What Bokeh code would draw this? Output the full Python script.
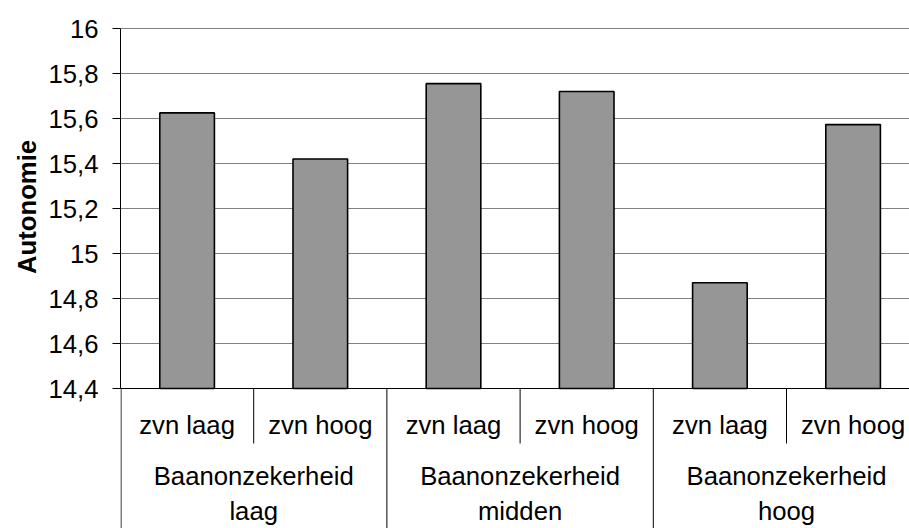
from bokeh.plotting import figure
from bokeh.models import Range1d, CustomJSTickFormatter, FixedTicker, Title
from bokeh.core.properties import value
from bokeh.embed import file_html
from bokeh.resources import INLINE

# ---- data ----
subcategories = ["zvn laag", "zvn hoog", "zvn laag", "zvn hoog", "zvn laag", "zvn hoog"]
groups = ["Baanonzekerheid\nlaag", "Baanonzekerheid\nmidden", "Baanonzekerheid\nhoog"]
autonomie = [15.625, 15.42, 15.755, 15.72, 14.87, 15.573]
y_ticks = [14.4, 14.6, 14.8, 15.0, 15.2, 15.4, 15.6, 15.8, 16.0]
y_axis_label = "Autonomie"

# ---- layout ----
W, H = 909, 528
LEFT = 120
TOP = 28                # pixel row of the top tick
AXIS_Y = 388            # pixel row of the category axis
CAT_PX = 133.2          # pixel width of one sub-category
FONT = "Liberation Sans"
FS = "25.7px"
TITLE_LEN = 131         # rendered length of the rotated y title, px

y_lo, y_hi = y_ticks[0], y_ticks[-1]
px_per_y = (AXIS_Y - TOP) / (y_hi - y_lo)
y_start = y_lo - (H - AXIS_Y) / px_per_y
y_end = y_hi + 1 / px_per_y
x_end = (W - LEFT) / CAT_PX
n = len(subcategories)
gsize = n // len(groups)

def ypx(dpx):
    return y_lo - dpx / px_per_y

p = figure(width=W, height=H, output_backend="svg", toolbar_location=None,
           x_range=Range1d(0, x_end), y_range=Range1d(y_start, y_end),
           x_axis_location=None,
           min_border_left=LEFT, min_border_right=0,
           min_border_top=TOP - 1, min_border_bottom=0)
p.outline_line_color = None
p.background_fill_color = "white"
p.border_fill_color = "white"

ticker = FixedTicker(ticks=y_ticks, minor_ticks=[])
ax = p.yaxis[0]
ax.ticker = ticker
ax.bounds = (y_lo, y_hi)
ax.formatter = CustomJSTickFormatter(
    code="return tick.toFixed(1).replace('.0','').replace('.',',');")
ax.major_tick_out = 8
ax.major_tick_in = 0
ax.minor_tick_out = 0
ax.minor_tick_in = 0
ax.axis_line_color = "black"
ax.major_tick_line_color = "black"
ax.major_label_standoff = 14
ax.major_label_text_font = FONT
ax.major_label_text_font_size = FS
ax.major_label_text_color = "black"

# y-axis title, anchored so that it is centred on the value axis
axis_mid = (TOP + AXIS_Y) / 2
p.add_layout(Title(text=y_axis_label, align="left",
                   offset=H - (axis_mid + TITLE_LEN / 2),
                   text_font=FONT, text_font_size=FS, text_font_style="bold",
                   text_color="black", standoff=10), "left")

p.xgrid.visible = False
p.ygrid.ticker = ticker
p.ygrid.grid_line_color = "#808080"
p.ygrid.grid_line_width = 1

xs = [i + 0.5 for i in range(n)]
p.vbar(x=xs, top=autonomie, bottom=y_lo, width=0.41,
       fill_color="#969696", line_color="black", line_width=1.6)

# category axis baseline
p.segment(x0=[0], x1=[x_end], y0=[y_lo], y1=[y_lo], line_color="black", line_width=1)

# separators between sub-categories inside a group
sub_sep = [g * gsize + k for g in range(len(groups)) for k in range(1, gsize)]
p.segment(x0=sub_sep, x1=sub_sep, y0=[y_lo] * len(sub_sep), y1=[ypx(55)] * len(sub_sep),
          line_color="black", line_width=1)

# separators between groups
half = 0.5 / CAT_PX
grp_sep = [g * gsize + (half if g == 0 else 0) for g in range(len(groups))]
p.segment(x0=grp_sep, x1=grp_sep, y0=[y_lo] * len(grp_sep), y1=[y_start] * len(grp_sep),
          line_color="black", line_width=1)

# sub-category labels
p.text(x=xs, y=[ypx(36)] * n, text=subcategories,
       text_font=value(FONT), text_font_size=FS, text_color="black",
       text_align="center", text_baseline="alphabetic")

# group labels (two lines)
gx = [g * gsize + gsize / 2 for g in range(len(groups))]
line1 = [g.split("\n")[0] for g in groups]
line2 = [g.split("\n")[1] for g in groups]
p.text(x=gx, y=[ypx(87)] * len(gx), text=line1,
       text_font=value(FONT), text_font_size=FS, text_color="black",
       text_align="center", text_baseline="alphabetic")
p.text(x=gx, y=[ypx(122)] * len(gx), text=line2,
       text_font=value(FONT), text_font_size=FS, text_color="black",
       text_align="center", text_baseline="alphabetic")

open("out.html", "w").write(file_html(p, INLINE))
